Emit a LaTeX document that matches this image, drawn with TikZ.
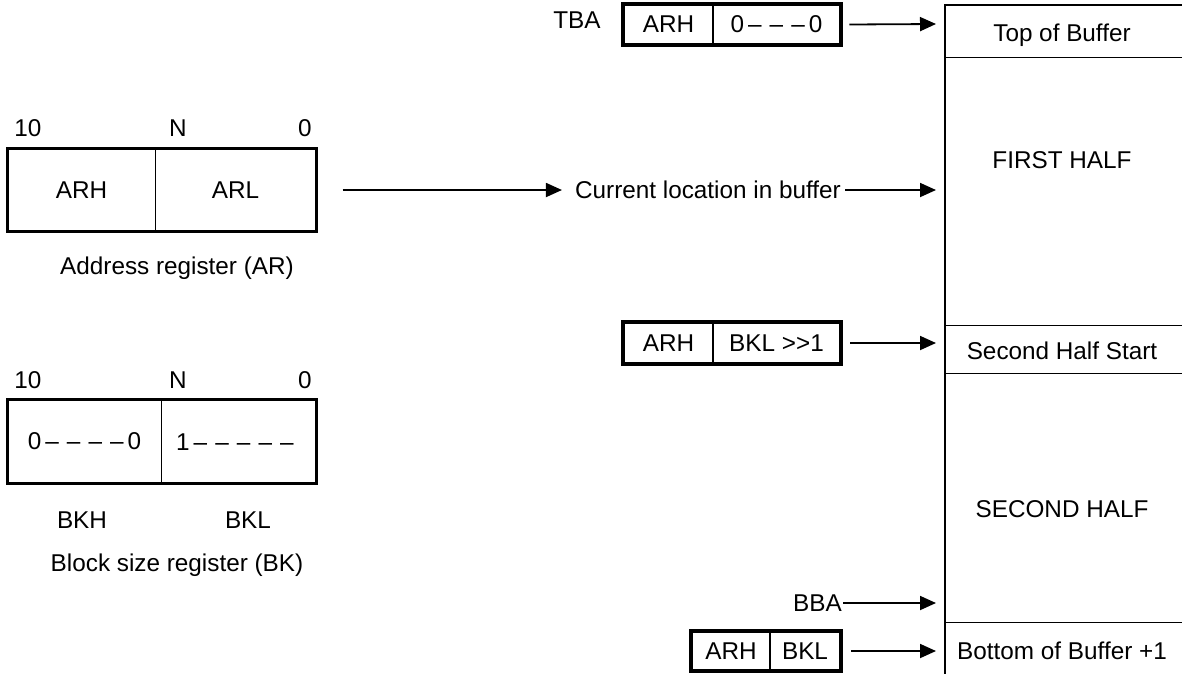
\documentclass[tikz,border=0pt]{standalone}
\usepackage{fontspec}
\setmainfont{Liberation Sans}
\usetikzlibrary{arrows.meta}
\tikzset{
  lbl/.style={font=\fontsize{24.3}{28}\selectfont, inner sep=1pt},
  field/.style={lbl, draw, line width=1pt, inner sep=0pt},
  tfield/.style={lbl, draw, line width=2.6pt, inner sep=0pt},
  outline/.style={line width=2.8pt},
  ptr/.style={line width=1.8pt, -{Triangle[length=16pt,width=14pt]}},
  bufline/.style={line width=1pt},
  bufedge/.style={line width=2.8pt},
}
\newcommand{\dd}{\,--\,}
\begin{document}
\begin{tikzpicture}[x=1pt,y=-1pt]
\useasboundingbox (0,0) rectangle (1182,673);

% ---------- Address register ----------
\node[lbl] (ar10) at (28,128) {10};
\node[lbl] (arN) at (178,128) {N};
\node[lbl] (ar0) at (305,128) {0};
\node[field, minimum width=147pt, minimum height=82pt] (arh) at (81.5,190) {ARH};
\node[field, minimum width=161pt, minimum height=82pt] (arl) at (235.5,190) {ARL};
\draw[outline] (arh.north west) rectangle (arl.south east);
\node[lbl] (arcap) at (177,268) {Address register (AR)};

% ---------- Block size register ----------
\node[lbl] (bk10) at (28,380) {10};
\node[lbl] (bkN) at (178,380) {N};
\node[lbl] (bk0) at (305,380) {0};
\node[field, minimum width=153pt, minimum height=83pt] (bkh) at (84.5,441.5) {0\dd\dd\dd\dd 0};
\node[field, minimum width=155pt, minimum height=83pt] (bkl) at (238.5,441.5) {};
\node[lbl, anchor=west] (bklv) at (175,442) {1\dd\dd\dd\dd\dd};
\draw[outline] (bkh.north west) rectangle (bkl.south east);
\node[lbl] (bkhc) at (82,520) {BKH};
\node[lbl] (bklc) at (248,520) {BKL};
\node[lbl] (bkcap) at (177,565) {Block size register (BK)};

% ---------- Buffer ----------
\coordinate (btl) at (945,5);
\coordinate (btr) at (1182,5);
\coordinate (bbl) at (945,673);
\draw[bufline] (945,57) -- (1182,57);
\draw[bufline] (945,325) -- (1182,325);
\draw[bufline] (945,373) -- (1182,373);
\draw[bufline] (945,622) -- (1182,622);
\draw[bufedge, line cap=rect] (bbl) -- (btl) -- (btr);
\node[lbl] (top) at (1062,35) {Top of Buffer};
\node[lbl] (first) at (1062,160) {FIRST HALF};
\node[lbl] (shs) at (1062,351) {Second Half Start};
\node[lbl] (second) at (1062,509) {SECOND HALF};
\node[lbl] (bot) at (1062,651) {Bottom of Buffer +1};

\coordinate (tTop) at (936,24);
\coordinate (tCur) at (936,190);
\coordinate (tShs) at (936,343);
\coordinate (tBba) at (936,603);
\coordinate (tBot) at (936,651);

% ---------- TBA ----------
\node[lbl] (tba) at (577,20) {TBA};
\node[tfield, minimum width=89pt, minimum height=39pt] (t1) at (668.5,24.5) {ARH};
\node[tfield, minimum width=127pt, minimum height=39pt] (t2) at (776.5,24.5) {0\dd\dd\dd 0};
\draw[outline] (t1.north west) rectangle (t2.south east);
\draw[ptr] ([xshift=8pt]t2.east) -- (tTop);

% ---------- Current location ----------
\node[lbl, anchor=east] (cur) at (842,190) {Current location in buffer};
\draw[ptr] ([xshift=26pt]arl.east) -- ([xshift=-12pt]cur.west);
\draw[ptr] ([xshift=3pt]cur.east) -- (tCur);

% ---------- Second half start ----------
\node[tfield, minimum width=89pt, minimum height=40pt] (s1) at (668.5,343) {ARH};
\node[tfield, minimum width=127pt, minimum height=40pt] (s2) at (776.5,343) {BKL >{}>1};
\draw[outline] (s1.north west) rectangle (s2.south east);
\draw[ptr] ([xshift=9pt]s2.east) -- (tShs);

% ---------- BBA ----------
\node[lbl, anchor=east] (bba) at (843,603) {BBA};
\draw[ptr] (bba.east) -- (tBba);

% ---------- Bottom ----------
\node[tfield, minimum width=78pt, minimum height=38pt] (b1) at (731,651) {ARH};
\node[tfield, minimum width=70pt, minimum height=38pt] (b2) at (805,651) {BKL};
\draw[outline] (b1.north west) rectangle (b2.south east);
\draw[ptr] ([xshift=10pt]b2.east) -- (tBot);
\end{tikzpicture}
\end{document}
